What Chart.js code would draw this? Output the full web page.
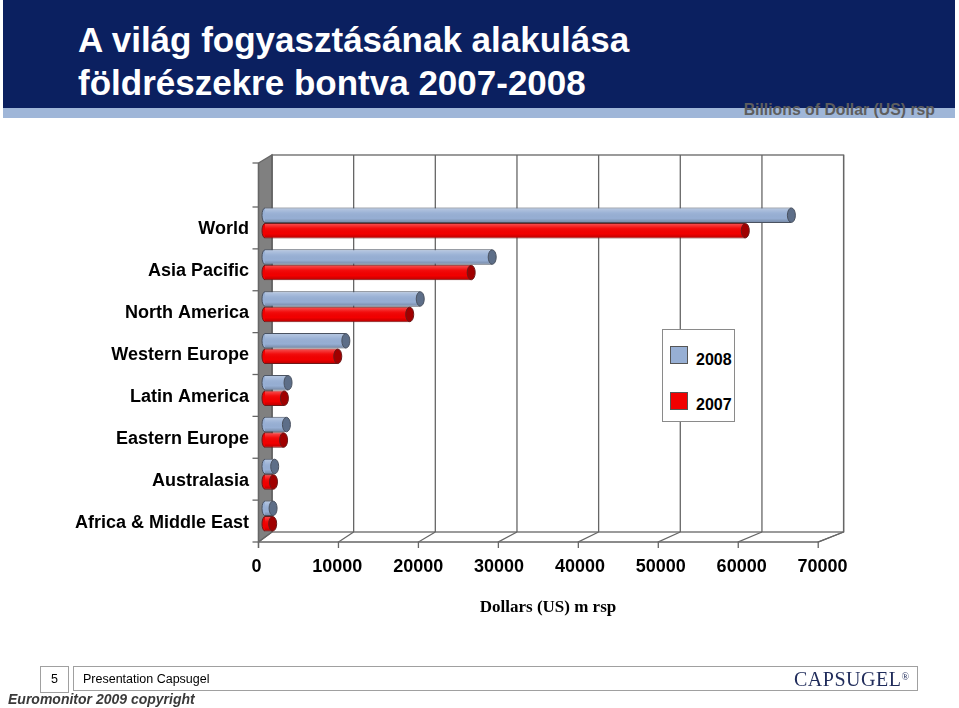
<!DOCTYPE html>
<html>
<head>
<meta charset="utf-8">
<script src="https://cdn.jsdelivr.net/npm/chart.js@4.4.1/dist/chart.umd.min.js"></script>
<style>
  body { margin: 0; width: 959px; height: 708px; position: relative; overflow: hidden; background: #fff; font-family: "Liberation Sans", Arial, sans-serif; }
  #band { position: absolute; left: 3px; top: 0; width: 952px; height: 108px; background: #0b2060; }
  #strip { position: absolute; left: 3px; top: 108px; width: 952px; height: 10px; background: #9fb6d8; }
  #title { position: absolute; left: 78px; top: 18px; color: #fff; font-size: 35px; font-weight: bold; line-height: 43px; }
  #unit { position: absolute; right: 24px; top: 101px; color: #5e5e5e; font-weight: bold; font-size: 15.8px; }
  #chart { position: absolute; left: 0; top: 0; }
  #legend { position: absolute; left: 662px; top: 329px; width: 71px; height: 91px; border: 1px solid #8a8a8a; background: #fff; }
  #legend .sw { position: absolute; left: 7px; width: 16px; height: 16px; border: 1px solid #555; }
  #legend .tx { position: absolute; left: 33px; font-weight: bold; font-size: 16px; line-height: 18px; }
  .fbox { position: absolute; top: 666px; height: 25px; border: 1px solid #a0a0a0; font-size: 12.5px; line-height: 25px; }
  #pg { left: 40px; width: 27px; text-align: center; }
  #pres { left: 73px; width: 845px; padding-left: 9px; box-sizing: border-box; }
  #logo { position: absolute; right: 8px; top: -3px; font-family: "Liberation Serif", serif; font-size: 20px; color: #1f2b5a; letter-spacing: 0.5px; line-height: 25px; }
  #logo span { font-size: 10px; vertical-align: 6px; letter-spacing: 0; }
  #copy { position: absolute; left: 8px; top: 691px; font-size: 14px; font-weight: bold; font-style: italic; color: #3a3a3a; }
</style>
</head>
<body>
<div id="band"></div>
<div id="strip"></div>
<div id="title">A világ fogyasztásának alakulása<br>földrészekre bontva 2007-2008</div>
<div id="unit">Billions of Dollar (US) rsp</div>
<canvas id="chart" width="959" height="708"></canvas>
<div id="legend"></div>
<div class="fbox" id="pg">5</div>
<div class="fbox" id="pres">Presentation Capsugel<div id="logo">CAPSUGEL<span>®</span></div></div>
<div id="copy">Euromonitor 2009 copyright</div>

<script>
const regions = ["World", "Asia Pacific", "North America", "Western Europe", "Latin America", "Eastern Europe", "Australasia", "Africa & Middle East"];
const seriesNames = ["2008", "2007"];
const values2008 = [65100, 28100, 19200, 10000, 2850, 2650, 1200, 1000];
const values2007 = [59400, 25500, 17900, 9000, 2400, 2300, 1050, 950];
const barColors = ["#97afd4", "#f20000"];
const capColors = ["#5d6e88", "#a00000"];
const edgeColors = ["#4a5260", "#6b1a1a"];
const axisTicks = [0, 10000, 20000, 30000, 40000, 50000, 60000, 70000];

// 3D box drawn around the plot: back wall, left wall and floor
const frame3d = {
  id: "frame3d",
  beforeDatasetsDraw(chart) {
    const { ctx, chartArea: a, scales: { x } } = chart;
    const back = v => a.left + 7 + (x.getPixelForValue(v) - a.left) * 1.0099;
    const front = v => a.left - 6.5 + (x.getPixelForValue(v) - a.left) * 0.9889;
    const topB = a.top - 47, botB = a.bottom - 5, topF = a.top - 39, botF = a.bottom + 5;
    const maxV = axisTicks[axisTicks.length - 1];

    ctx.save();
    ctx.lineWidth = 1.3;
    ctx.strokeStyle = "#666";

    // left wall
    ctx.fillStyle = "#808080";
    ctx.beginPath();
    ctx.moveTo(front(0), topF);
    ctx.lineTo(back(0), topB);
    ctx.lineTo(back(0), botB);
    ctx.lineTo(front(0), botF);
    ctx.closePath();
    ctx.fill();
    ctx.stroke();

    // back wall and its gridlines
    ctx.strokeRect(back(0), topB, back(maxV) - back(0), botB - topB);
    axisTicks.forEach(v => {
      ctx.beginPath();
      ctx.moveTo(back(v), topB);
      ctx.lineTo(back(v), botB);
      ctx.stroke();
    });

    // floor
    ctx.beginPath();
    ctx.moveTo(front(0), botF);
    ctx.lineTo(front(maxV), botF);
    ctx.lineTo(back(maxV), botB);
    ctx.stroke();
    axisTicks.forEach(v => {
      ctx.beginPath();
      ctx.moveTo(front(v), botF + 6);
      ctx.lineTo(front(v), botF);
      ctx.lineTo(back(v), botB);
      ctx.stroke();
    });

    // left axis with category ticks
    ctx.beginPath();
    ctx.moveTo(front(0), topF);
    ctx.lineTo(front(0), botF + 6);
    ctx.stroke();
    const step = (a.bottom - a.top) / regions.length;
    const marks = [topF];
    for (let i = 0; i <= regions.length; i++) marks.push(a.top + 5 + i * step);
    marks.forEach(my => {
      ctx.beginPath();
      ctx.moveTo(front(0) - 6, my);
      ctx.lineTo(front(0), my);
      ctx.stroke();
    });
    ctx.restore();
  }
};

// shading and end caps so the bars look like cylinders
const cylinders = {
  id: "cylinders",
  afterDatasetsDraw(chart) {
    const ctx = chart.ctx;
    ctx.save();
    chart.data.datasets.forEach((ds, di) => {
      chart.getDatasetMeta(di).data.forEach(bar => {
        const { x, y, base, height } = bar.getProps(["x", "y", "base", "height"], true);
        const t = y - height / 2;
        const g = ctx.createLinearGradient(0, t, 0, t + height);
        g.addColorStop(0, "rgba(255,255,255,0.35)");
        g.addColorStop(0.35, "rgba(255,255,255,0.05)");
        g.addColorStop(0.7, "rgba(0,0,0,0)");
        g.addColorStop(1, "rgba(0,0,0,0.25)");
        ctx.fillStyle = g;
        ctx.fillRect(base, t + 1, x - base, height - 2);

        ctx.lineWidth = 1;
        ctx.strokeStyle = edgeColors[di];
        ctx.fillStyle = barColors[di];
        ctx.beginPath();
        ctx.ellipse(base, y, 3, height / 2 - 0.5, 0, Math.PI / 2, Math.PI * 1.5);
        ctx.fill();
        ctx.stroke();

        ctx.fillStyle = capColors[di];
        ctx.beginPath();
        ctx.ellipse(x, y, 4, height / 2 - 0.5, 0, 0, Math.PI * 2);
        ctx.fill();
        ctx.stroke();
      });
    });
    ctx.restore();
  }
};

new Chart(document.getElementById("chart").getContext("2d"), {
  type: "bar",
  data: {
    labels: regions,
    datasets: [
      { label: seriesNames[0], data: values2008, backgroundColor: barColors[0], borderColor: edgeColors[0], borderWidth: 1 },
      { label: seriesNames[1], data: values2007, backgroundColor: barColors[1], borderColor: edgeColors[1], borderWidth: 1 }
    ]
  },
  options: {
    responsive: false,
    animation: false,
    indexAxis: "y",
    categoryPercentage: 0.74,
    barPercentage: 1,
    layout: { padding: { top: 202, right: 128, left: 0, bottom: 0 } },
    plugins: { legend: { display: false }, tooltip: { enabled: false } },
    scales: {
      y: {
        grid: { display: false, drawTicks: false },
        border: { display: false },
        ticks: {
          padding: 16,
          labelOffset: 6.5,
          color: "#000",
          font: { family: "Liberation Sans", weight: "bold", size: 18 }
        },
        afterFit(scale) { scale.width = 265; }
      },
      x: {
        min: 0,
        max: 70000,
        grid: { display: false, drawTicks: false },
        border: { display: false },
        afterBuildTicks(scale) { scale.ticks = axisTicks.map(v => ({ value: v })); },
        ticks: {
          padding: 19,
          labelOffset: -8.5,
          color: "#000",
          font: { family: "Liberation Sans", weight: "bold", size: 18 },
          callback: v => String(v)
        },
        title: {
          display: true,
          text: "Dollars (US) m rsp",
          color: "#000",
          font: { family: "Liberation Serif", weight: "bold", size: 17 },
          padding: { top: 0, bottom: 90 }
        },
        afterFit(scale) { scale.height = 171; }
      }
    }
  },
  plugins: [frame3d, cylinders]
});

// legend box in the middle of the plot
const legend = document.getElementById("legend");
seriesNames.forEach((name, i) => {
  const sw = document.createElement("div");
  sw.className = "sw";
  sw.style.top = (16 + i * 46) + "px";
  sw.style.background = barColors[i];
  const tx = document.createElement("div");
  tx.className = "tx";
  tx.style.top = (21 + i * 45) + "px";
  tx.textContent = name;
  legend.appendChild(sw);
  legend.appendChild(tx);
});
</script>
</body>
</html>
